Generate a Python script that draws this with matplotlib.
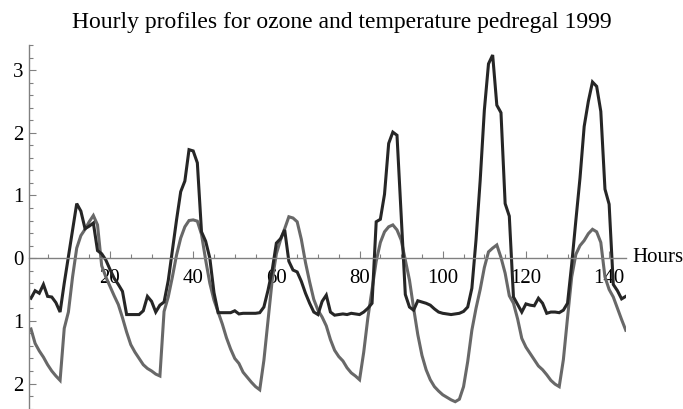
import matplotlib
matplotlib.use("Agg")
import matplotlib.pyplot as plt
from matplotlib.ticker import FixedLocator, FixedFormatter, MultipleLocator
import numpy as np

# hourly standardized profiles, pedregal station 1999 (hours 1..144)
hours = np.arange(1, 145)

ozone = [
    -0.64, -0.52, -0.56, -0.42, -0.61, -0.62, -0.71, -0.86, -0.40, 0.02,
    0.45, 0.87, 0.75, 0.47, 0.51, 0.56, 0.12, 0.07, -0.03, -0.18,
    -0.32, -0.42, -0.53, -0.90, -0.90, -0.90, -0.90, -0.84, -0.61, -0.69,
    -0.86, -0.75, -0.70, -0.36, 0.13, 0.61, 1.06, 1.23, 1.73, 1.71,
    1.52, 0.42, 0.27, 0.00, -0.55, -0.87, -0.87, -0.87, -0.87, -0.84,
    -0.89, -0.88, -0.88, -0.88, -0.88, -0.87, -0.78, -0.51, -0.19, 0.24,
    0.31, 0.45, -0.05, -0.19, -0.22, -0.37, -0.56, -0.72, -0.86, -0.90,
    -0.69, -0.59, -0.86, -0.91, -0.90, -0.89, -0.90, -0.88, -0.89, -0.90,
    -0.86, -0.80, -0.72, 0.58, 0.62, 1.02, 1.83, 2.01, 1.96, 0.70,
    -0.58, -0.78, -0.83, -0.68, -0.70, -0.72, -0.75, -0.81, -0.86, -0.88,
    -0.89, -0.90, -0.89, -0.88, -0.85, -0.78, -0.48, 0.29, 1.24, 2.36,
    3.10, 3.24, 2.44, 2.32, 0.87, 0.67, -0.62, -0.74, -0.86, -0.73,
    -0.75, -0.76, -0.64, -0.72, -0.88, -0.86, -0.86, -0.87, -0.83, -0.72,
    -0.10, 0.60, 1.28, 2.10, 2.50, 2.81, 2.74, 2.34, 1.10, 0.86,
    -0.42, -0.52, -0.65, -0.61,
]

temperature = [
    -1.13, -1.36, -1.48, -1.58, -1.70, -1.80, -1.88, -1.95, -1.12, -0.86,
    -0.30, 0.16, 0.36, 0.46, 0.58, 0.68, 0.53, -0.12, -0.30, -0.45,
    -0.60, -0.74, -0.95, -1.18, -1.38, -1.50, -1.60, -1.70, -1.76, -1.80,
    -1.85, -1.88, -0.85, -0.62, -0.30, 0.05, 0.32, 0.50, 0.60, 0.61,
    0.59, 0.38, -0.03, -0.40, -0.67, -0.86, -1.05, -1.27, -1.45, -1.60,
    -1.68, -1.82, -1.90, -1.98, -2.05, -2.10, -1.63, -0.99, -0.35, 0.07,
    0.29, 0.47, 0.66, 0.64, 0.58, 0.30, -0.07, -0.38, -0.66, -0.83,
    -0.94, -1.08, -1.30, -1.47, -1.57, -1.64, -1.75, -1.83, -1.88, -1.94,
    -1.50, -0.95, -0.50, -0.05, 0.25, 0.42, 0.50, 0.53, 0.45, 0.29,
    -0.03, -0.35, -0.80, -1.22, -1.55, -1.78, -1.94, -2.05, -2.12, -2.18,
    -2.22, -2.26, -2.29, -2.25, -2.05, -1.65, -1.15, -0.80, -0.50, -0.15,
    0.10, 0.16, 0.21, 0.01, -0.24, -0.60, -0.72, -0.97, -1.28, -1.42,
    -1.52, -1.62, -1.72, -1.78, -1.86, -1.95, -2.01, -2.05, -1.62, -0.95,
    -0.30, 0.06, 0.20, 0.28, 0.39, 0.46, 0.42, 0.25, -0.30, -0.50,
    -0.62, -0.80, -0.98, -1.15,
]

xticks = [20, 40, 60, 80, 100, 120, 140]
yticks = [-2, -1, 0, 1, 2, 3]
ytick_labels = ["2", "1", "0", "1", "2", "3"]

plt.rcParams["font.family"] = ["Liberation Serif", "DejaVu Serif"]

fig = plt.figure(figsize=(6.83, 4.09), dpi=100)
ax = fig.add_axes([0.0429, 0.001, 0.8733, 0.889])

ax.plot(hours, temperature, color="#686868", lw=2.2, solid_joinstyle="miter")
ax.plot(hours, ozone, color="#262626", lw=2.2, solid_joinstyle="miter")

ax.set_xlim(0.6, 144)
ax.set_ylim(-2.4, 3.4)

# axes crossing at y = 0, Mathematica style
for s in ["top", "right"]:
    ax.spines[s].set_visible(False)
ax.spines["bottom"].set_position(("data", 0))
for s in ["bottom", "left"]:
    ax.spines[s].set_color("#808080")
    ax.spines[s].set_linewidth(1.0)

ax.xaxis.set_major_locator(FixedLocator(xticks))
ax.xaxis.set_minor_locator(MultipleLocator(5))
ax.yaxis.set_major_locator(FixedLocator(yticks))
ax.yaxis.set_major_formatter(FixedFormatter(ytick_labels))
ax.yaxis.set_minor_locator(MultipleLocator(0.2))

ax.tick_params(which="both", direction="in", color="#808080", width=0.8,
               labelsize=15)
ax.tick_params(which="major", length=5)
ax.tick_params(which="minor", length=3)
ax.tick_params(axis="x", pad=8)
ax.tick_params(axis="y", pad=4)

fig.text(0.5, 1 - 28 / 409, "Hourly profiles for ozone and temperature pedregal 1999",
         ha="center", va="baseline", fontsize=17)
fig.text(632 / 683, 1 - 258 / 409, "Hours", ha="left", va="center",
         fontsize=15)

fig.savefig("out.png", dpi=100)
